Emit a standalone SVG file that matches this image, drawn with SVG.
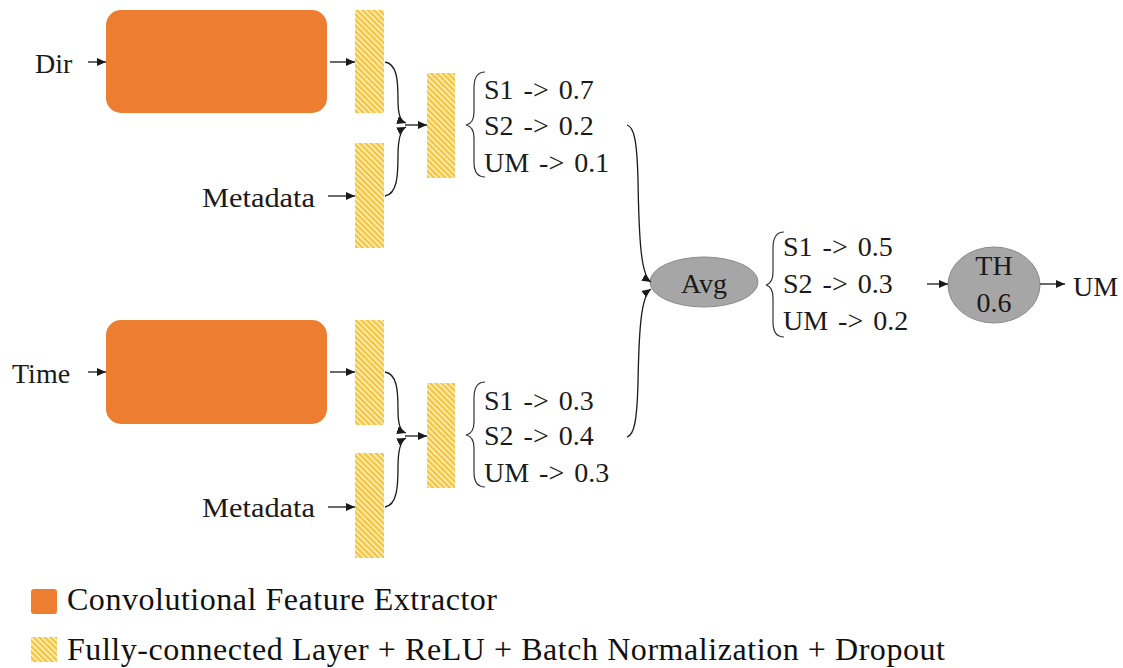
<svg xmlns="http://www.w3.org/2000/svg" width="1123" height="668" viewBox="0 0 1123 668">
  <style>
    .conv { fill: #ED7D31; }
    .fc { fill: url(#hatch); }
    .op { fill: #A6A6A6; stroke: #8A8A8A; stroke-width: 1; }
    .wire { fill: none; stroke: #1a1a1a; stroke-width: 1.3; }
    .arrow { marker-end: url(#head); }
    .brace { fill: none; stroke: #333333; stroke-width: 1.2; }
  </style>
  <defs>
    <!-- diagonal yellow hatching for fully-connected blocks -->
    <pattern id="hatch" patternUnits="userSpaceOnUse" width="4" height="4" patternTransform="rotate(-45)">
      <rect width="4" height="4" fill="#FFF2C4"/>
      <rect width="2.4" height="4" fill="#F3C43C"/>
    </pattern>
    <marker id="head" markerUnits="userSpaceOnUse" markerWidth="10" markerHeight="8" refX="9" refY="4" orient="auto">
      <path d="M0,0 L9,4 L0,8 Z" fill="#1a1a1a"/>
    </marker>
  </defs>

  <rect width="1123" height="668" fill="#ffffff"/>

  <!-- all labels share one serif face -->
  <g font-family="Liberation Serif, serif" font-size="28" fill="#1a1a1a">

    <!-- input labels -->
    <g id="in-dir"><text x="35" y="73">Dir</text></g>
    <g id="in-meta1"><text x="202" y="207" textLength="113" lengthAdjust="spacingAndGlyphs">Metadata</text></g>
    <g id="in-time"><text x="12" y="383">Time</text></g>
    <g id="in-meta2"><text x="202" y="517" textLength="113" lengthAdjust="spacingAndGlyphs">Metadata</text></g>

    <!-- convolutional feature extractors -->
    <g id="conv-dir"><rect class="conv" x="106" y="10" width="221" height="103" rx="15"/></g>
    <g id="conv-time"><rect class="conv" x="106" y="320" width="221" height="104" rx="15"/></g>

    <!-- fully-connected blocks -->
    <g id="fc-dir"><rect class="fc" x="355" y="10" width="29" height="103"/></g>
    <g id="fc-meta1"><rect class="fc" x="355" y="143" width="29" height="105"/></g>
    <g id="fc-merge1"><rect class="fc" x="427" y="73" width="28" height="105"/></g>
    <g id="fc-time"><rect class="fc" x="355" y="320" width="29" height="105"/></g>
    <g id="fc-meta2"><rect class="fc" x="355" y="453" width="29" height="105"/></g>
    <g id="fc-merge2"><rect class="fc" x="427" y="383" width="28" height="105"/></g>

    <!-- branch outputs -->
    <g id="out-dir" word-spacing="3">
      <path class="brace" d="M485,72 C477,72 474,78 474,88 L474,112 C474,120 471,124 466,125 C471,126 474,130 474,138 L474,162 C474,172 477,177 485,177"/>
      <text x="484" y="99">S1 -&gt; 0.7</text>
      <text x="484" y="135">S2 -&gt; 0.2</text>
      <text x="484" y="172">UM -&gt; 0.1</text>
    </g>
    <g id="out-time" word-spacing="3">
      <path class="brace" d="M485,382 C477,382 474,388 474,398 L474,422 C474,430 471,434 466,435 C471,436 474,440 474,448 L474,472 C474,482 477,487 485,487"/>
      <text x="484" y="410">S1 -&gt; 0.3</text>
      <text x="484" y="445">S2 -&gt; 0.4</text>
      <text x="484" y="482">UM -&gt; 0.3</text>
    </g>

    <!-- averaging -->
    <g id="avg">
      <ellipse class="op" cx="704" cy="282" rx="54" ry="25"/>
      <text x="704" y="293" text-anchor="middle">Avg</text>
    </g>
    <g id="out-avg" word-spacing="3">
      <path class="brace" d="M784,232 C776,232 773,238 773,248 L773,272 C773,280 770,284 766,285 C770,286 773,290 773,298 L773,322 C773,332 776,337 784,337"/>
      <text x="783" y="256">S1 -&gt; 0.5</text>
      <text x="783" y="293">S2 -&gt; 0.3</text>
      <text x="783" y="330">UM -&gt; 0.2</text>
    </g>

    <!-- threshold -->
    <g id="th">
      <ellipse class="op" cx="994" cy="285" rx="46" ry="38"/>
      <text x="994" y="275" text-anchor="middle">TH</text>
      <text x="994" y="312" text-anchor="middle">0.6</text>
    </g>
    <g id="result"><text x="1073" y="296">UM</text></g>

    <!-- legend -->
    <g id="legend" font-size="32" fill="#111111">
      <rect class="conv" x="31" y="589" width="26" height="25" rx="3"/>
      <text x="67" y="610" textLength="430" lengthAdjust="spacing">Convolutional Feature Extractor</text>
      <rect class="fc" x="31" y="637" width="26" height="25"/>
      <text x="67" y="660" textLength="878" lengthAdjust="spacing">Fully-connected Layer + ReLU + Batch Normalization + Dropout</text>
    </g>
  </g>

  <!-- connectors -->
  <g id="connectors">
    <line class="wire arrow" x1="88" y1="62" x2="106" y2="62"/>
    <line class="wire arrow" x1="330" y1="62" x2="355" y2="62"/>
    <line class="wire arrow" x1="328" y1="196" x2="355" y2="196"/>
    <path class="wire arrow" d="M385,62 C397,64 398,80 398,100 C398,114 400,121 406,123"/>
    <path class="wire arrow" d="M385,196 C397,194 398,176 398,156 C398,140 400,130 406,127"/>
    <line class="wire arrow" x1="405" y1="125" x2="427" y2="125"/>

    <line class="wire arrow" x1="88" y1="372" x2="106" y2="372"/>
    <line class="wire arrow" x1="330" y1="372" x2="355" y2="372"/>
    <line class="wire arrow" x1="328" y1="507" x2="355" y2="507"/>
    <path class="wire arrow" d="M385,372 C397,374 398,390 398,410 C398,424 400,431 406,433"/>
    <path class="wire arrow" d="M385,507 C397,505 398,487 398,467 C398,451 400,441 406,438"/>
    <line class="wire arrow" x1="405" y1="436" x2="427" y2="436"/>

    <path class="wire arrow" d="M627,125 C634,127 637,140 638,180 C639,240 641,276 651,282"/>
    <path class="wire arrow" d="M627,437 C634,435 637,422 638,382 C639,330 641,296 651,289"/>

    <line class="wire arrow" x1="927" y1="284" x2="948" y2="284"/>
    <line class="wire arrow" x1="1040" y1="284" x2="1065" y2="284"/>
  </g>
</svg>
